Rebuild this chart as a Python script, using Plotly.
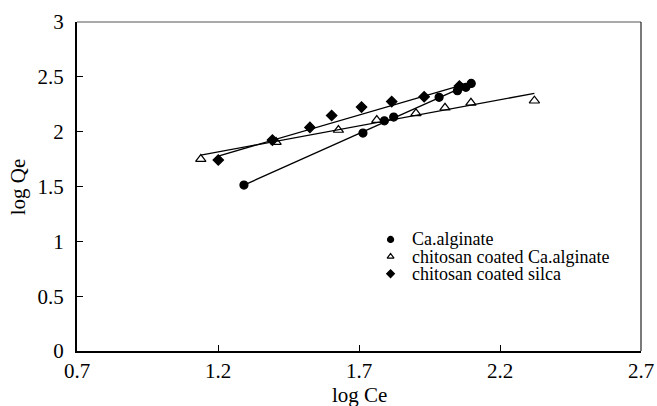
import plotly.graph_objects as go

# Ca.alginate (filled circles)
ca_x = [1.292, 1.714, 1.790, 1.823, 1.984, 2.049, 2.058, 2.079, 2.098]
ca_y = [1.513, 1.987, 2.099, 2.133, 2.313, 2.373, 2.409, 2.404, 2.440]
# chitosan coated Ca.alginate (open triangles)
cca_x = [1.139, 1.406, 1.627, 1.763, 1.902, 2.005, 2.097, 2.322]
cca_y = [1.750, 1.905, 2.015, 2.106, 2.167, 2.218, 2.263, 2.282]
# chitosan coated silca (filled diamonds)
ccs_x = [1.201, 1.393, 1.526, 1.603, 1.709, 1.816, 1.931, 2.056]
ccs_y = [1.741, 1.923, 2.039, 2.147, 2.224, 2.274, 2.318, 2.416]

# straight trend lines (end points)
ca_fit_x = [1.292, 2.098]
ca_fit_y = [1.513, 2.440]
cca_fit_x = [1.139, 2.322]
cca_fit_y = [1.786, 2.349]
ccs_fit_x = [1.201, 2.077]
ccs_fit_y = [1.778, 2.434]

names = ["Ca.alginate", "chitosan coated Ca.alginate", "chitosan coated silca"]
x_ticks = [0.7, 1.2, 1.7, 2.2, 2.7]
y_ticks = [0, 0.5, 1, 1.5, 2, 2.5, 3]

FONT = "Liberation Serif, Times New Roman, serif"

fig = go.Figure()

symbols = ["circle", "triangle-up-open", "diamond"]
sizes = [8, 9, 8]

for fx, fy in [(ca_fit_x, ca_fit_y), (cca_fit_x, cca_fit_y), (ccs_fit_x, ccs_fit_y)]:
    fig.add_trace(go.Scatter(x=fx, y=fy, mode="lines",
                             line=dict(color="black", width=1.3),
                             showlegend=False, hoverinfo="skip"))

for xs, ys, nm, sym, sz in zip([ca_x, cca_x, ccs_x], [ca_y, cca_y, ccs_y], names, symbols, sizes):
    fig.add_trace(go.Scatter(x=xs, y=ys, mode="markers", name=nm, showlegend=False,
                             marker=dict(symbol=sym, size=sz, color="black",
                                         line=dict(width=1.2, color="black"))))

# custom legend (drawn on a hidden overlay axis in 0..1 units)
leg_mx = 0.556
leg_tx = 0.59
leg_y = [0.339, 0.287, 0.235]
for nm, sym, yy in zip(names, symbols, leg_y):
    fig.add_trace(go.Scatter(x=[leg_mx], y=[yy], mode="markers", xaxis="x2", yaxis="y2",
                             showlegend=False, hoverinfo="skip",
                             marker=dict(symbol=sym, size=6, color="black",
                                         line=dict(width=1.2, color="black"))))
    fig.add_annotation(x=leg_tx, y=yy, xref="paper", yref="paper", text=nm,
                       showarrow=False, xanchor="left", yanchor="middle",
                       font=dict(family=FONT, size=18, color="black"))

# axis titles
fig.add_annotation(x=0.5, y=-0.135, xref="paper", yref="paper", text="log Ce",
                   showarrow=False, xanchor="center", yanchor="middle",
                   font=dict(family=FONT, size=21, color="black"))
fig.add_annotation(x=-0.105, y=0.5, xref="paper", yref="paper", text="log Qe",
                   showarrow=False, xanchor="center", yanchor="middle", textangle=-90,
                   font=dict(family=FONT, size=21, color="black"))

fig.update_layout(
    width=657, height=406,
    margin=dict(l=77, r=16, t=22, b=55),
    plot_bgcolor="white", paper_bgcolor="white",
    font=dict(family=FONT, color="black", size=21),
    showlegend=False,
    xaxis=dict(range=[0.7, 2.7], tickvals=x_ticks, ticktext=[str(v) for v in x_ticks],
               showgrid=False, zeroline=False, showline=True, linecolor="black", linewidth=2,
               ticks="inside", ticklen=6, tickcolor="black", tickwidth=1,
               automargin=False,
               tickfont=dict(size=21)),
    yaxis=dict(range=[0, 3], tickvals=y_ticks, ticktext=[str(v) for v in y_ticks],
               showgrid=False, zeroline=False, showline=True, linecolor="black", linewidth=2,
               ticks="inside", ticklen=6, tickcolor="black", tickwidth=1,
               ticklabelstandoff=7, automargin=False,
               tickfont=dict(size=21)),
    xaxis2=dict(range=[0, 1], overlaying="x", anchor="y2", visible=False),
    yaxis2=dict(range=[0, 1], overlaying="y", anchor="x2", visible=False),
    shapes=[
        dict(type="line", xref="paper", yref="paper", x0=0, x1=1, y0=1, y1=1,
             line=dict(color="#555555", width=1.2)),
        dict(type="line", xref="paper", yref="paper", x0=1, x1=1, y0=0, y1=1,
             line=dict(color="#222222", width=1.2)),
    ],
)

fig.write_html("out.html")
